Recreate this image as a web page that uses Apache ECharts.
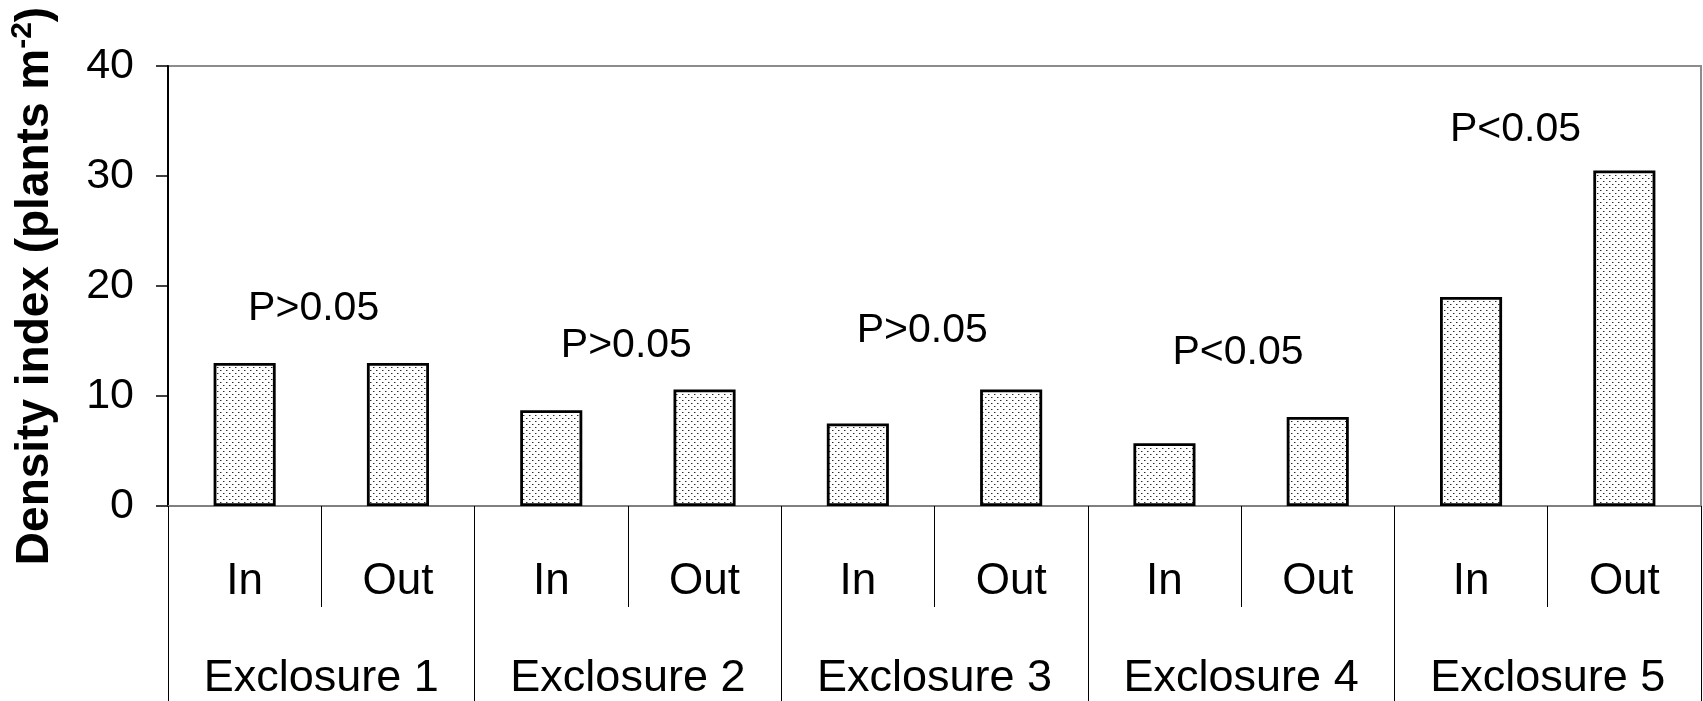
<!DOCTYPE html>
<html>
<head>
<meta charset="utf-8">
<script src="https://cdn.jsdelivr.net/npm/echarts@6/dist/echarts.min.js"></script>
<style>
  html, body { margin: 0; padding: 0; background: #fff; }
  #chart { width: 1703px; height: 701px; }
</style>
</head>
<body>
<div id="chart"></div>
<script>
// Plant density inside and outside five exclosures
const sides = ['In', 'Out', 'In', 'Out', 'In', 'Out', 'In', 'Out', 'In', 'Out'];
const exclosures = ['Exclosure 1', 'Exclosure 2', 'Exclosure 3', 'Exclosure 4', 'Exclosure 5'];
const density = [13.0, 13.0, 8.7, 10.6, 7.5, 10.6, 5.7, 8.1, 19.0, 30.5];
const yTicks = [0, 10, 20, 30, 40];

// Significance notes: text, position along the In/Out axis (0..10) and height
const pTexts = ['P>0.05', 'P>0.05', 'P>0.05', 'P<0.05', 'P<0.05'];
const pX = [0.95, 2.99, 4.92, 6.98, 8.79];
const pY = [17.9, 14.6, 15.9, 13.9, 34.2];

const FONT = "'Liberation Sans', Arial, sans-serif";

// Dotted fill used inside the bars
function dotTile() {
  const c = document.createElement('canvas');
  c.width = 6; c.height = 6;
  const g = c.getContext('2d');
  g.fillStyle = '#ffffff';
  g.fillRect(0, 0, 6, 6);
  g.fillStyle = '#2a2a2a';
  g.fillRect(1, 1, 1, 1);
  g.fillRect(4, 4, 1, 1);
  g.fillStyle = '#a0a0a0';
  g.fillRect(2, 1, 1, 1);
  g.fillRect(5, 4, 1, 1);
  return c;
}

const chart = echarts.init(document.getElementById('chart'), null, { renderer: 'canvas' });

chart.setOption({
  animation: false,
  backgroundColor: '#ffffff',
  grid: {
    left: 168, right: 2, top: 66, bottom: 194,
    show: true, borderColor: '#8c8c8c', borderWidth: 2,
    backgroundColor: 'transparent'
  },
  xAxis: [
    {
      type: 'category',
      data: sides,
      position: 'bottom',
      boundaryGap: true,
      axisLine: { show: true, lineStyle: { color: '#808080', width: 2 } },
      axisTick: { show: true, interval: 0, length: 101, lineStyle: { color: '#000', width: 1 } },
      axisLabel: { interval: 0, margin: 54, fontSize: 44, color: '#000', fontFamily: FONT }
    },
    {
      type: 'category',
      data: exclosures,
      position: 'bottom',
      boundaryGap: true,
      axisLine: { show: false },
      axisTick: { show: true, interval: 0, length: 200, lineStyle: { color: '#000', width: 1 } },
      axisLabel: { interval: 0, margin: 150, fontSize: 45, color: '#000', fontFamily: FONT }
    },
    {
      type: 'value',
      min: 0, max: 10,
      show: false
    }
  ],
  yAxis: {
    type: 'value',
    min: yTicks[0], max: yTicks[yTicks.length - 1], interval: 10,
    axisLine: { show: true, lineStyle: { color: '#000', width: 2 } },
    axisTick: { show: true, length: 12, lineStyle: { color: '#000', width: 1.5 } },
    splitLine: { show: false },
    axisLabel: { margin: 34, fontSize: 43, color: '#000', fontFamily: FONT },
    name: '{a|Density index (plants m}{s|-2}{a|)}',
    nameLocation: 'middle',
    nameRotate: 90,
    nameGap: 106,
    nameTextStyle: {
      rich: {
        a: { fontSize: 46, fontWeight: 'bold', color: '#000', fontFamily: FONT },
        s: { fontSize: 30, fontWeight: 'bold', color: '#000', fontFamily: FONT, verticalAlign: 'top', padding: [0, 0, 24, 0] }
      }
    }
  },
  series: [
    {
      type: 'bar',
      xAxisIndex: 0,
      data: density,
      barWidth: '40.5%',
      itemStyle: {
        color: { image: dotTile(), repeat: 'repeat' },
        borderColor: '#000',
        borderWidth: 2.8
      }
    },
    {
      type: 'scatter',
      xAxisIndex: 2,
      symbolSize: 1,
      itemStyle: { color: 'rgba(0,0,0,0)', opacity: 1 },
      data: pTexts.map((t, i) => ({ name: t, value: [pX[i], pY[i]] })),
      label: {
        show: true,
        position: 'inside',
        formatter: '{b}',
        fontSize: 41,
        color: '#000',
        fontFamily: FONT,
        align: 'center',
        verticalAlign: 'middle'
      }
    }
  ]
});
</script>
</body>
</html>
